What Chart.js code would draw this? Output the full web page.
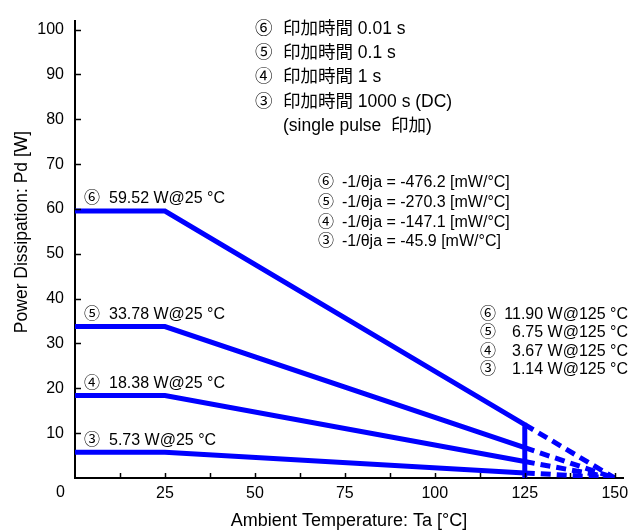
<!DOCTYPE html>
<html><head><meta charset="utf-8">
<script src="https://cdn.jsdelivr.net/npm/chart.js@4/dist/chart.umd.min.js"></script>
<style>html,body{margin:0;padding:0;background:#fff}#wrap{width:643px;height:531px;position:relative}</style>
</head><body><div id="wrap"><canvas id="c" width="643" height="531"></canvas></div>
<script>
// ---- data ----
const marks = ['⑥', '⑤', '④', '③'];
const pulseTimes = ['0.01 s', '0.1 s', '1 s', '1000 s (DC)'];
const pd25 = [59.52, 33.78, 18.38, 5.73];      // W at 25 °C
const pd125 = [11.90, 6.75, 3.67, 1.14];       // W at 125 °C
const derating = [-476.2, -270.3, -147.1, -45.9]; // mW/°C
const tempStart = 0, tempKnee = 25, tempMaxOp = 125, tempZero = 150;
const xTickLabels = [25, 50, 75, 100, 125, 150];
const xTickMarks = [12.5, 25, 37.5, 50, 62.5, 75, 87.5, 100, 112.5, 125, 137.5, 150];
const yTickLabels = [10, 20, 30, 40, 50, 60, 70, 80, 90, 100];
const xTitle = 'Ambient Temperature: Ta [°C]';
const yTitle = 'Power Dissipation: Pd [W]';

const FONT = "'Liberation Sans', Arial, 'Noto Sans CJK JP', sans-serif";
const BLUE = 'rgb(0,0,255)';

const datasets = [];
pd25.forEach((v, i) => {
  const solid = [{x: tempStart, y: v}, {x: tempKnee, y: v}, {x: tempMaxOp, y: pd125[i]}];
  if (i === 0) solid.push({x: tempMaxOp, y: 0});
  datasets.push({data: solid, borderColor: BLUE, borderWidth: 5, showLine: true, pointRadius: 0, fill: false, tension: 0});
  datasets.push({data: [{x: tempMaxOp, y: pd125[i]}, {x: tempZero, y: 0}], borderColor: BLUE, borderWidth: 5,
    borderDash: [10, 6], showLine: true, pointRadius: 0, fill: false, tension: 0});
});

const annot = {
  id: 'annot',
  afterDraw(chart) {
    const ctx = chart.ctx, xs = chart.scales.x, ys = chart.scales.y;
    const ca = chart.chartArea;
    ctx.save();
    // inward tick marks
    ctx.strokeStyle = '#000'; ctx.lineWidth = 1.5;
    xTickMarks.forEach(v => {
      const px = Math.round(xs.getPixelForValue(v)) + 0.5;
      ctx.beginPath(); ctx.moveTo(px, ca.bottom); ctx.lineTo(px, ca.bottom - 5); ctx.stroke();
    });
    yTickLabels.forEach(v => {
      const py = Math.round(ys.getPixelForValue(v)) + 0.5;
      ctx.beginPath(); ctx.moveTo(ca.left, py); ctx.lineTo(ca.left + 6, py); ctx.stroke();
    });
    ctx.fillStyle = '#000';
    // origin label
    ctx.font = '16px ' + FONT;
    ctx.textAlign = 'right'; ctx.textBaseline = 'middle';
    ctx.fillText('0', ca.left - 10, ca.bottom + 15);
    // axis titles
    ctx.font = '18px ' + FONT;
    ctx.textAlign = 'center';
    ctx.fillText(xTitle, (ca.left + ca.right) / 2, ca.bottom + 43);
    ctx.font = '17.5px ' + FONT;
    ctx.save();
    ctx.translate(22, 232); ctx.rotate(-Math.PI / 2);
    ctx.fillText(yTitle, 0, 0);
    ctx.restore();

    // legend (top)
    ctx.font = '17.5px ' + FONT;
    ctx.textAlign = 'left';
    const ly = [29, 53, 77, 102];
    marks.forEach((m, i) => {
      ctx.fillText(m, 255, ly[i]);
      ctx.fillText('印加時間 ' + pulseTimes[i], 283, ly[i]);
    });
    ctx.fillText('(single pulse  印加)', 283, 126);
    // derating coefficients
    ctx.font = '16px ' + FONT;
    const dy = [183, 203, 223, 242];
    marks.forEach((m, i) => {
      ctx.fillText(m, 318, dy[i]);
      ctx.fillText('-1/θja = ' + derating[i].toFixed(1) + ' [mW/°C]', 342, dy[i]);
    });
    // 125 °C values
    const ry = [315, 333, 352, 370];
    marks.forEach((m, i) => {
      ctx.textAlign = 'left';
      ctx.fillText(m, 480, ry[i]);
      ctx.textAlign = 'right';
      ctx.fillText(pd125[i].toFixed(2) + ' W@125 °C', 628, ry[i]);
    });
    // 25 °C labels
    ctx.textAlign = 'left';
    marks.forEach((m, i) => {
      const py = ys.getPixelForValue(pd25[i]) - 12;
      ctx.fillText(m, 84, py);
      ctx.fillText(pd25[i].toFixed(2) + ' W@25 °C', 109, py);
    });
    ctx.restore();
  }
};

new Chart(document.getElementById('c'), {
  type: 'scatter',
  data: {datasets},
  options: {
    responsive: false, animation: false,
    layout: {padding: {top: 20, right: 20, left: 0, bottom: 0}},
    plugins: {legend: {display: false}, tooltip: {enabled: false}},
    scales: {
      x: {
        type: 'linear', min: 0, max: 152.3,
        afterBuildTicks: s => { s.ticks = xTickLabels.map(v => ({value: v})); },
        afterFit: s => { s.height = 53; },
        grid: {display: false, drawTicks: false},
        border: {display: true, color: '#000', width: 2},
        ticks: {color: '#000', font: {family: FONT, size: 16}, padding: 6, maxRotation: 0, autoSkip: false}
      },
      y: {
        type: 'linear', min: 0, max: 102,
        afterBuildTicks: s => { s.ticks = yTickLabels.map(v => ({value: v})); },
        afterFit: s => { s.width = 75; },
        grid: {display: false, drawTicks: false},
        border: {display: true, color: '#000', width: 2},
        ticks: {color: '#000', font: {family: FONT, size: 16}, padding: 11, autoSkip: false}
      }
    }
  },
  plugins: [annot]
});
</script>
</body></html>
